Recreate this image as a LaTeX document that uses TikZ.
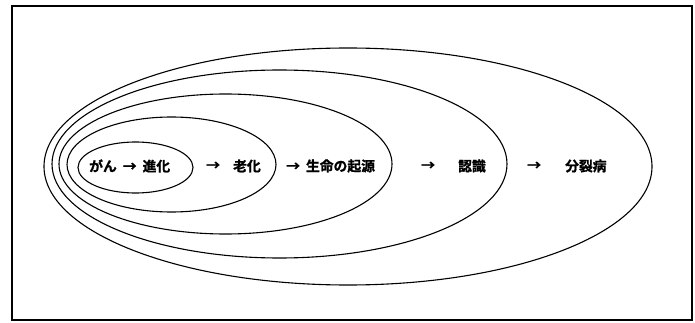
\documentclass[tikz,border=0pt]{standalone}
\usepackage{fontspec}
\newfontfamily\jp{Noto Sans CJK JP Bold}[FakeBold=1.2]
\newcommand{\gapsp}{\hspace{6pt}}
\begin{document}
\begin{tikzpicture}[x=1pt,y=-1pt,
  ring/.style={line width=1.1pt},
  lbl/.style={font=\jp\fontsize{13.8}{14}\selectfont, inner sep=0pt, anchor=west}]
\useasboundingbox (0,0) rectangle (695,323);
\draw[line width=1.5pt] (12,6) rectangle (692,320);
\draw[ring] (135.5,167.5) ellipse [x radius=57.5, y radius=25.5];
\draw[ring] (171.5,164.5) ellipse [x radius=104.5, y radius=47.5];
\draw[ring] (225.5,164) ellipse [x radius=166.5, y radius=70];
\draw[ring] (279.5,164) ellipse [x radius=227.5, y radius=94];
\draw[ring] (348,166.5) ellipse [x radius=304, y radius=118.5];
\node[lbl] (t1) at (89,166) {がん\gapsp{}→\gapsp{}進化};
\node[lbl] (a1) at (206,166) {→};
\node[lbl] (t2) at (233,166) {老化};
\node[lbl] (t3) at (286,166) {→\gapsp{}生命の起源};
\node[lbl] (a3) at (421,166) {→};
\node[lbl] (t4) at (458,166) {認識};
\node[lbl] (a4) at (527,166) {→};
\node[lbl] (t5) at (565,166) {分裂病};
\end{tikzpicture}
\end{document}
